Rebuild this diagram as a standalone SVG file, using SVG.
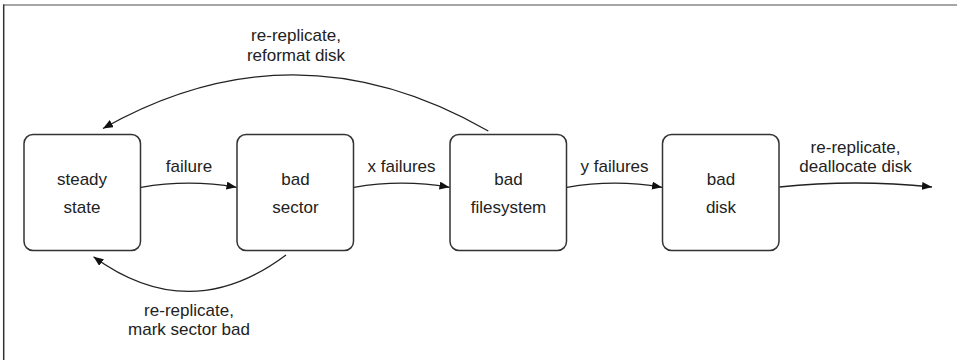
<svg xmlns="http://www.w3.org/2000/svg" width="957" height="360" viewBox="0 0 957 360">
<style>
.frame{fill:none;stroke-width:1.5}
.node rect{fill:#fff;stroke:#333;stroke-width:1.5}
.node text,.lbl{font-family:"Liberation Sans",Arial,sans-serif;font-size:17px;fill:#222;text-anchor:middle}
.edge{fill:none;stroke:#222;stroke-width:1.3;marker-end:url(#arr)}
</style>
<defs>
<marker id="arr" viewBox="0 0 10 8" refX="10" refY="4" markerWidth="10" markerHeight="8" markerUnits="userSpaceOnUse" orient="auto">
<path d="M0,0 L10,4 L0,8 Z" fill="#111"/>
</marker>
</defs>
<rect width="957" height="360" fill="#fff"/>
<line x1="3" y1="5" x2="957" y2="5" stroke="#888" class="frame"/>
<line x1="3.7" y1="4.5" x2="3.7" y2="360" stroke="#333" class="frame"/>
<g id="steady-state" class="node">
<rect x="24" y="134.5" width="116.5" height="116" rx="9"/>
<text x="82" y="185">steady</text>
<text x="82" y="212.5">state</text>
</g>
<g id="bad-sector" class="node">
<rect x="237" y="134.5" width="116.5" height="116" rx="9"/>
<text x="295.5" y="185">bad</text>
<text x="295.5" y="212.5">sector</text>
</g>
<g id="bad-filesystem" class="node">
<rect x="450" y="134.5" width="116.5" height="116" rx="9"/>
<text x="508.5" y="185">bad</text>
<text x="508.5" y="212.5">filesystem</text>
</g>
<g id="bad-disk" class="node">
<rect x="662.5" y="134.5" width="116.5" height="116" rx="9"/>
<text x="721" y="185">bad</text>
<text x="721" y="212.5">disk</text>
</g>
<g id="connectors">
<path class="edge" d="M141,187.3 Q189,179 236.5,187.3"/>
<path class="edge" d="M354,187.3 Q402,179 449.5,187.3"/>
<path class="edge" d="M567,187.3 Q615,179 662,187.3"/>
<path class="edge" d="M779.5,187 Q855,179 932,187"/>
<path class="edge" d="M488.3,131 Q295,20 103,128.5"/>
<path class="edge" d="M286,255 Q190,327 93.5,256.7"/>
<text class="lbl" x="189" y="172">failure</text>
<text class="lbl" x="401.5" y="172">x failures</text>
<text class="lbl" x="614.5" y="172">y failures</text>
<text class="lbl" x="855.5" y="153">re-replicate,</text>
<text class="lbl" x="855.5" y="172">deallocate disk</text>
<text class="lbl" x="296" y="41">re-replicate,</text>
<text class="lbl" x="296" y="60.5">reformat disk</text>
<text class="lbl" x="189" y="316">re-replicate,</text>
<text class="lbl" x="189" y="335">mark sector bad</text>
</g>
</svg>
